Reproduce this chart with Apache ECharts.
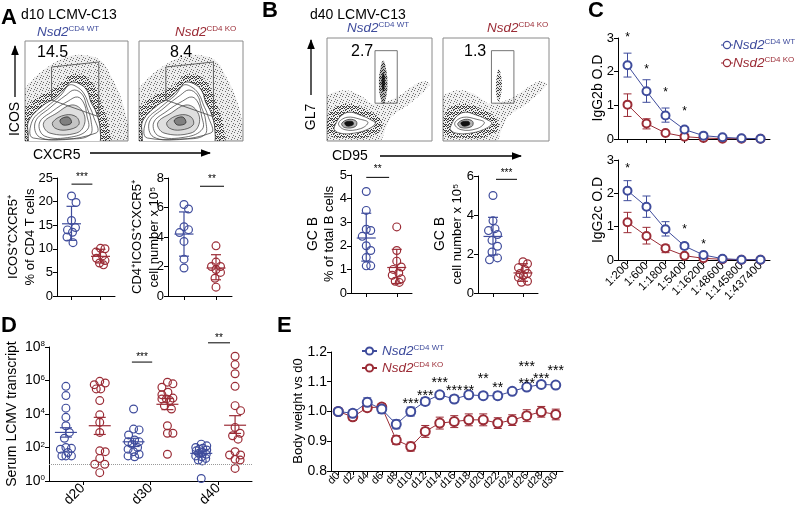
<!DOCTYPE html>
<html><head><meta charset="utf-8">
<script src="https://cdn.jsdelivr.net/npm/echarts@6/dist/echarts.min.js"></script>
<style>html,body{margin:0;padding:0;background:#fff}#c{width:795px;height:512px}</style>
</head><body><div id="c"></div><script>
// ---------------- DATA ----------------
// Panel A (d10): Tfh frequency and number
const aFreqWT = [21.2, 19.8, 16.0, 14.5, 14.0, 13.5, 12.5, 11.3];
const aFreqKO = [10.1, 10.0, 9.3, 8.5, 8.0, 7.5, 7.0, 6.6];
const aFreqStats = [[15.3, 11.8, 19.0], [8.4, 7.0, 9.9]];      // mean, low, high
const aNumWT = [6.2, 5.9, 4.7, 4.5, 4.3, 3.7, 2.5, 1.9];
const aNumKO = [3.4, 2.3, 2.0, 2.0, 1.8, 1.6, 1.2, 0.6];
const aNumStats = [[4.2, 2.7, 5.7], [1.9, 1.1, 2.8]];
// Panel B (d40): GC B frequency and number
const bFreqWT = [4.3, 3.5, 2.7, 2.65, 2.4, 2.0, 1.8, 1.5, 1.15, 1.15];
const bFreqKO = [2.8, 1.8, 1.35, 1.1, 1.0, 0.85, 0.75, 0.6, 0.5, 0.45];
const bFreqStats = [[2.33, 1.35, 3.38], [1.08, 0.4, 1.85]];
const bNumWT = [5.0, 3.7, 3.3, 3.2, 3.0, 2.7, 2.4, 2.1, 1.8, 1.7];
const bNumKO = [1.6, 1.5, 1.3, 1.2, 1.0, 1.0, 0.9, 0.8, 0.6, 0.55];
const bNumStats = [[2.9, 1.95, 3.88], [1.03, 0.6, 1.5]];
const gateA = ['14.5', '8.4'];
const gateB = ['2.7', '1.3'];
// Flow-plot outlines (normalised 0-100 plot units)
const aCloud = [[0,0],[0,50],[8,62],[22,74],[40,84],[58,86],[74,80],[84,64],[93,44],[99,20],[100,0]];
const aCloudDense = [[0,0],[0,32],[10,42],[24,50],[36,58],[44,66],[56,66],[66,58],[72,44],[78,28],[82,10],[82,0]];
const aRing1 = [[4,21],[18,36],[29,43],[40,54],[45,59],[55,56],[61,49],[64,39],[69,29],[73,11],[70,-3],[6,-3],[3,8]];
const aRing2 = [[7,20],[21,34],[35,46],[43,56],[52,53],[58,46],[62,36],[66,26],[69,8],[8,3]];
const aRing3 = [[10,19],[24,33],[40,46],[48,51],[56,46],[60,34],[64,21],[63,6],[40,2],[14,4]];
const aRing3b = [[14,18],[27,30],[42,40],[51,44],[57,38],[60,26],[61,12],[45,4],[19,5]];
const aRing4 = [[18,18],[31,28],[45,36],[55,31],[58,18],[50,8],[24,8]];
const aRing5 = [[27,19],[39,26],[50,24],[52,16],[40,11],[29,13]];
const aRing6 = [[34,21],[42,24],[45,18],[37,16]];
const aGate = [[25.8,74],[71.6,79],[71.6,24.3],[25.8,41],[25.8,74]];
const bCloud = [[0,0],[0,42],[8,48],[20,49],[32,44],[45,36],[65,42],[90,58],[98,55],[80,37],[62,24],[55,10],[50,0]];
const bCloudDense = [[2,6],[2,26],[10,34],[22,36],[36,31],[50,22],[52,12],[40,4],[20,3]];
const bRing1 = [[8,16],[13,24],[21,28],[32,25],[41,21],[46,17],[38,11],[25,7.5],[13,7.5],[7,11]];
const bRing2 = [[11,17],[19,23],[32,21],[39,18],[32,12],[17,11]];
const bRing3 = [[14,17],[21,21],[28,19],[27,14],[17,13]];
const bRing4 = [[17,18],[24,19],[25,16],[19,14.5]];
const bGcWT = [[53.6,78],[56.5,68],[57.5,56],[56.5,44],[53.6,36],[50.5,44],[49.5,56],[50.5,68]];
const bGcWTcore = [[53.6,66],[55.2,58],[53.6,48],[52,58]];
const bGcKO = [[52.7,70],[55,62],[55.5,52],[54,42],[52.7,38],[50.5,44],[50,54],[51,64]];
const bGate = [[45.7,87.7],[66.9,87.7],[66.9,36.7],[45.7,36.7],[45.7,87.7]];
// Panel C: ELISA dilutions
const dilutions = ['1:200','1:600','1:1800','1:5400','1:16200','1:48600','1:145800','1:437400'];
const g2bWT   = [2.19, 1.42, 0.70, 0.28, 0.10, 0.05, 0.02, 0.01];
const g2bWTLo = [1.84, 1.09, 0.50, 0.21, 0.08, 0.04, 0.01, 0.01];
const g2bWTHi = [2.55, 1.76, 0.92, 0.35, 0.12, 0.06, 0.02, 0.01];
const g2bKO   = [1.02, 0.46, 0.18, 0.07, 0.03, 0.01, 0.01, 0.01];
const g2bKOLo = [0.67, 0.30, 0.15, 0.05, 0.02, 0.01, 0.01, 0.01];
const g2bKOHi = [1.34, 0.60, 0.21, 0.09, 0.04, 0.02, 0.01, 0.01];
const g2bStarIdx = [0, 1, 2, 3];
const g2bStarY = [3.1, 2.16, 1.49, 0.92];
const g2cWT   = [2.08, 1.60, 0.92, 0.42, 0.15, 0.04, 0.01, 0.01];
const g2cWTLo = [1.78, 1.28, 0.72, 0.34, 0.12, 0.03, 0.01, 0.01];
const g2cWTHi = [2.38, 1.92, 1.15, 0.50, 0.18, 0.05, 0.01, 0.01];
const g2cKO   = [1.13, 0.72, 0.35, 0.13, 0.05, 0.02, 0.01, 0.01];
const g2cKOLo = [0.82, 0.48, 0.22, 0.10, 0.04, 0.01, 0.01, 0.01];
const g2cKOHi = [1.43, 0.98, 0.45, 0.16, 0.06, 0.03, 0.01, 0.01];
const g2cStarIdx = [0, 3, 4];
const g2cStarY = [2.85, 1.02, 0.57];
// Panel D: serum LCMV transcript (log10 copies)
const dGroups = ['WT d20','KO d20','WT d30','KO d30','WT d40','KO d40'];
const dDays = ['d20','d30','d40'];
const dWT20 = [5.65, 5.1, 4.35, 3.8, 3.3, 2.9, 2.55, 2.0, 1.95, 1.9, 1.7, 1.5, 1.5, 1.5];
const dKO20 = [5.95, 5.85, 5.75, 5.5, 5.5, 4.8, 3.95, 3.5, 2.9, 1.8, 1.75, 1.35, 1.0, 1.0, 0.5];
const dWT30 = [4.3, 3.1, 3.05, 2.75, 2.45, 2.35, 2.35, 2.2, 2.0, 1.9, 1.75, 1.6, 1.5, 1.45];
const dKO30 = [5.9, 5.8, 5.6, 5.3, 5.15, 4.95, 4.9, 4.9, 4.8, 4.5, 4.3, 3.3, 2.85, 2.85, 1.6];
const dWT40 = [2.2, 2.1, 2.0, 1.95, 1.9, 1.85, 1.8, 1.7, 1.65, 1.6, 1.5, 1.45, 1.35, 1.25, 1.2, 0.15];
const dKO40 = [7.45, 6.95, 6.4, 5.65, 4.5, 4.2, 3.2, 2.85, 2.7, 2.5, 1.75, 1.55, 1.55, 1.3, 1.25, 0.75];
const dStats = [[2.9,2.62,3.18],[3.3,2.78,3.8],[2.34,2.06,2.55],[4.58,4.26,4.92],[1.65,1.55,1.78],[3.33,2.84,3.9]];
const dLimit = 1;
// Panel E: body weight
const days = ['d0','d2','d4','d6','d8','d10','d12','d14','d16','d18','d20','d22','d24','d26','d28','d30'];
const weightWT    = [1.0, 0.994, 1.031, 1.008, 0.957, 1.0, 1.034, 1.056, 1.042, 1.056, 1.053, 1.053, 1.068, 1.082, 1.091, 1.089];
const weightWTErr = [0, 0.012, 0.015, 0.014, 0.015, 0.015, 0.012, 0.01, 0.012, 0.01, 0.01, 0.012, 0.008, 0.008, 0.006, 0.006];
const weightKO    = [1.0, 0.982, 1.013, 1.015, 0.904, 0.882, 0.933, 0.961, 0.966, 0.972, 0.972, 0.961, 0.971, 0.986, 0.999, 0.99];
const weightKOErr = [0, 0.012, 0.012, 0.012, 0.015, 0.015, 0.02, 0.02, 0.02, 0.02, 0.02, 0.018, 0.018, 0.02, 0.018, 0.018];
const eStarIdx  = [5, 6, 7, 8, 9, 10, 11, 13, 13, 14, 15];
const eStarY    = [1.039, 1.066, 1.109, 1.081, 1.081, 1.123, 1.092, 1.163, 1.106, 1.123, 1.15];
const eStarText = ['***','***','***','***','**','**','**','***','***','***','***'];

// ---------------- BUILD ----------------
const FONT = '"Liberation Sans", Arial, Helvetica, sans-serif';
const BLUE = '#3f4c9c', RED = '#9b2c36';
const NS = 13.5, SS = 8;   // Nsd2 label font / superscript font
const grids = [], xAxes = [], yAxes = [], series = [], G = [];
const axLine = {show:true, lineStyle:{color:'#000', width:1}};
const axTick = {show:true, length:4, lineStyle:{color:'#000', width:1}};

// speckle textures for flow-cytometry dot clouds (fixed pixel layout)
function speckle(cells, alpha) {
  const cv = document.createElement('canvas'); cv.width = 6; cv.height = 6;
  const cx = cv.getContext('2d'); cx.fillStyle = 'rgba(0,0,0,' + alpha + ')';
  cells.forEach(c => cx.fillRect(c[0], c[1], 1, 1));
  return {type:'pattern', image:cv, repeat:'repeat'};
}
const sparseDots = speckle([[0,0],[3,1],[5,3],[1,4],[4,5]], 0.55);
const denseDots = speckle([[0,0],[2,0],[4,1],[1,2],[3,2],[5,3],[0,4],[2,4],[4,4],[1,5],[3,5],[5,0]], 0.75);

// deterministic beeswarm: pixel x-offsets so that circles do not overlap
function swarm(values, pxPerUnit, minDist, maxOff) {
  const order = values.map((v, i) => i).sort((a, b) => values[b] - values[a]);
  const placed = [], off = values.map(() => 0);
  order.forEach(i => {
    const y = values[i] * pxPerUnit;
    let best = 0, bestScore = -1;
    for (let s = 0; s <= maxOff * 2; s++) {
      const dx = (s % 2 ? 1 : -1) * Math.ceil(s / 2) * 0.5;
      let md = Infinity;
      placed.forEach(p => { md = Math.min(md, Math.hypot(p[0] - dx, p[1] - y)); });
      if (md >= minDist) { best = dx; bestScore = Infinity; break; }
      if (md > bestScore) { bestScore = md; best = dx; }
    }
    off[i] = best; placed.push([best, y]);
  });
  return off;
}

function addGrid(rect, x, y) {
  grids.push(Object.assign({left:rect[0], top:rect[1], width:rect[2], height:rect[3], containLabel:false, outerBoundsMode:'none'}, rect[4] || {}));
  const i = grids.length - 1;
  xAxes.push(Object.assign({gridIndex:i}, x));
  yAxes.push(Object.assign({gridIndex:i}, y));
  return i;
}
function fc(api, f, y) {
  const i = Math.floor(f), p0 = api.coord([i, y]), p1 = api.coord([i + 1, y]);
  return [p0[0] + (p1[0] - p0[0]) * (f - i), p0[1]];
}
function poly(g, pts, fill, stroke, lw, smooth, z) {
  return {type:'custom', xAxisIndex:g, yAxisIndex:g, clip:true, silent:true, z:z || 1, data:pts,
    renderItem(params, api) {
      if (params.dataIndex !== 0) return {type:'group', children:[]};
      return {type:'polygon', shape:{points:pts.map(p => api.coord(p)), smooth:smooth || 0},
        style:{fill:fill || 'none', stroke:stroke || 'none', lineWidth:lw || 0.8}};
    }};
}
function polyline(g, pts, stroke, lw) {
  return {type:'custom', xAxisIndex:g, yAxisIndex:g, clip:true, silent:true, z:3, data:pts,
    renderItem(params, api) {
      if (params.dataIndex !== 0) return {type:'group', children:[]};
      return {type:'polyline', shape:{points:pts.map(p => api.coord(p))}, style:{fill:'none', stroke, lineWidth:lw}};
    }};
}
function flowPlot(rect, kind, isWT) {
  const g = addGrid([rect[0], rect[1], rect[2], rect[3], {show:true, borderColor:'#8a8a8a', borderWidth:1}],
    {type:'value', min:0, max:100, show:false}, {type:'value', min:0, max:100, show:false});
  if (kind === 'A') {
    series.push(poly(g, aCloud, 'rgba(0,0,0,0.07)', null, 0, 0.35));
    series.push(poly(g, aCloud, sparseDots, null, 0, 0.35));
    series.push(poly(g, aCloudDense, denseDots, null, 0, 0.35));
    series.push(poly(g, aRing1, '#fff', '#222', 0.8, 0.4, 2));
    [aRing2, aRing3, aRing3b, aRing4, aRing5].forEach((r, k) =>
      series.push(poly(g, r, k >= 3 ? 'rgba(80,80,80,0.18)' : 'none', '#333', 0.7, 0.4, 2)));
    series.push(poly(g, aRing6, 'rgba(60,60,60,0.5)', '#222', 0.7, 0.4, 2));
    series.push(polyline(g, aGate, '#555', 0.9));
  } else {
    series.push(poly(g, bCloud, 'rgba(0,0,0,0.06)', null, 0, 0.35));
    series.push(poly(g, bCloud, sparseDots, null, 0, 0.35));
    series.push(poly(g, bCloudDense, denseDots, null, 0, 0.4));
    series.push(poly(g, bRing1, '#fff', '#333', 0.7, 0.4, 2));
    series.push(poly(g, bRing2, 'none', '#333', 0.7, 0.4, 2));
    series.push(poly(g, bRing3, 'rgba(40,40,40,0.35)', '#222', 0.7, 0.4, 2));
    series.push(poly(g, bRing4, '#111', '#111', 0.7, 0.4, 2));
    if (isWT) {
      series.push(poly(g, bGcWT, denseDots, null, 0, 0.5));
      series.push(poly(g, bGcWT, 'rgba(0,0,0,0.3)', null, 0, 0.5));
      series.push(poly(g, bGcWTcore, 'rgba(0,0,0,0.8)', null, 0, 0.5, 2));
    } else {
      series.push(poly(g, bGcKO, denseDots, null, 0, 0.5));
      series.push(poly(g, bGcKO, 'rgba(0,0,0,0.12)', null, 0, 0.5));
    }
    series.push(polyline(g, bGate, '#666', 0.9));
  }
  return g;
}
// hollow-circle dots drawn through the axes, shifted sideways by the swarm offsets
function dots(g, cat, values, color, pxPerUnit, minDist, maxOff) {
  const off = swarm(values, pxPerUnit, minDist, maxOff);
  return {type:'custom', xAxisIndex:g, yAxisIndex:g, z:3, silent:true, clip:false,
    data:values.map((v, i) => [cat, v, off[i]]),
    renderItem(params, api) {
      const p = api.coord([api.value(0), api.value(1)]);
      return {type:'circle', shape:{cx:p[0] + api.value(2), cy:p[1], r:3.9}, style:{fill:'none', stroke:color, lineWidth:1.2}};
    }};
}
function barSeries(g, xi, rows, colors, mw, cw, lw, z) {
  return {type:'custom', xAxisIndex:xi, yAxisIndex:g, z:z || 4, silent:true, clip:false, data:rows,
    renderItem(params, api) {
      const i = api.value(0);
      const m = api.coord([i, api.value(1)]), lo = api.coord([i, api.value(2)]), hi = api.coord([i, api.value(3)]);
      const c = colors[params.dataIndex % colors.length];
      const S = () => ({stroke:c, lineWidth:lw || 1.2});
      const ch = [
        {type:'line', shape:{x1:lo[0], y1:lo[1], x2:hi[0], y2:hi[1]}, style:S()},
        {type:'line', shape:{x1:lo[0]-cw/2, y1:lo[1], x2:lo[0]+cw/2, y2:lo[1]}, style:S()},
        {type:'line', shape:{x1:hi[0]-cw/2, y1:hi[1], x2:hi[0]+cw/2, y2:hi[1]}, style:S()}];
      if (mw) ch.push({type:'line', shape:{x1:m[0]-mw/2, y1:m[1], x2:m[0]+mw/2, y2:m[1]}, style:S()});
      return {type:'group', children:ch};
    }};
}
function sigSeries(g, xi, x1, x2, yLine, yStar, text, fs) {
  return {type:'custom', xAxisIndex:xi, yAxisIndex:g, clip:false, silent:true, z:5, data:[[0, yLine]],
    renderItem(params, api) {
      const a = fc(api, x1, yLine), b = fc(api, x2, yLine), s = fc(api, (x1 + x2) / 2, yStar);
      return {type:'group', children:[
        {type:'line', shape:{x1:a[0], y1:a[1], x2:b[0], y2:b[1]}, style:{stroke:'#000', lineWidth:1}},
        {type:'text', x:s[0], y:s[1] + fs * 0.25, style:{text, fontSize:fs, fontFamily:FONT, fill:'#000', align:'center', verticalAlign:'middle'}}]};
    }};
}
function starSeries(g, idx, ys, texts, fs) {
  return {type:'custom', xAxisIndex:g, yAxisIndex:g, clip:false, silent:true, z:5,
    data:idx.map((d, k) => [d, ys[k]]),
    renderItem(params, api) {
      const p = api.coord([api.value(0), api.value(1)]);
      const t = Array.isArray(texts) ? texts[params.dataIndex] : texts;
      return {type:'text', x:p[0], y:p[1] + fs * 0.28, style:{text:t, fontSize:fs, fontFamily:FONT, fill:'#000', align:'center', verticalAlign:'middle'}};
    }};
}
function dotPlot(rect, yMax, yInt, wt, ko, stats, sig) {
  const g = addGrid(rect,
    {type:'category', data:['WT','KO'], boundaryGap:true, axisLine:axLine, axisTick:Object.assign({alignWithLabel:true}, axTick),
     axisLabel:{show:false}},
    {type:'value', min:0, max:yMax, interval:yInt, axisLine:axLine, axisTick:axTick, splitLine:{show:false},
     axisLabel:{fontSize:13, color:'#000', fontFamily:FONT, margin:4}});
  const ppu = rect[3] / yMax;
  series.push(dots(g, 0, wt, BLUE, ppu, 8, 9));
  series.push(dots(g, 1, ko, RED, ppu, 8, 9));
  series.push(barSeries(g, g, stats.map((s, i) => [i, s[0], s[1], s[2]]), [BLUE, RED], 19, 10));
  series.push(sigSeries(g, g, sig[0], sig[1], sig[2], sig[3], sig[4], 10));
  return g;
}

// Panel A
flowPlot([25, 41, 103, 100], 'A', true);
flowPlot([139, 41, 104, 100], 'A', false);
dotPlot([57, 178, 58, 118], 25, 5, aFreqWT, aFreqKO, aFreqStats, [0, 0.72, 23.7, 25.6, '***']);
dotPlot([168, 178, 64, 118], 8, 2, aNumWT, aNumKO, aNumStats, [0.5, 1.25, 7.44, 8.1, '**']);
// Panel B
flowPlot([327, 38, 105, 103], 'B', true);
flowPlot([443, 38, 106, 103], 'B', false);
dotPlot([351, 175, 61, 118], 5, 1, bFreqWT, bFreqKO, bFreqStats, [0, 0.75, 4.9, 5.35, '**']);
dotPlot([478, 176, 60, 117], 6, 2, bNumWT, bNumKO, bNumStats, [0.1, 0.8, 5.83, 6.25, '***']);

// Panel C
function elisa(rect, showLabels, wt, wtLo, wtHi, ko, koLo, koHi, sIdx, sY, names) {
  const g = addGrid(rect,
    {type:'category', data:dilutions, boundaryGap:true, axisLine:axLine, axisTick:Object.assign({alignWithLabel:true}, axTick),
     axisLabel:{show:showLabels, rotate:45, interval:0, fontSize:11.5, color:'#000', fontFamily:FONT, margin:4}},
    {type:'value', min:0, max:3, interval:1, axisLine:axLine, axisTick:axTick, splitLine:{show:false},
     axisLabel:{fontSize:13, color:'#000', fontFamily:FONT, margin:4}});
  series.push(barSeries(g, g, wt.map((v, i) => [i, v, wtLo[i], wtHi[i]]), [BLUE], 0, 8, 1, 2));
  series.push(barSeries(g, g, ko.map((v, i) => [i, v, koLo[i], koHi[i]]), [RED], 0, 8, 1, 2));
  series.push({type:'line', name:names[0], xAxisIndex:g, yAxisIndex:g, data:wt, symbol:'emptyCircle', symbolSize:8, z:4,
    itemStyle:{color:BLUE}, lineStyle:{color:BLUE, width:1}});
  series.push({type:'line', name:names[1], xAxisIndex:g, yAxisIndex:g, data:ko, symbol:'emptyCircle', symbolSize:8, z:3,
    itemStyle:{color:RED}, lineStyle:{color:RED, width:1}});
  series.push(starSeries(g, sIdx, sY, '*', 12));
}
elisa([618, 38, 152, 101], false, g2bWT, g2bWTLo, g2bWTHi, g2bKO, g2bKOLo, g2bKOHi, g2bStarIdx, g2bStarY, ['cWT', 'cKO']);
elisa([618, 160, 152, 100], true, g2cWT, g2cWTLo, g2cWTHi, g2cKO, g2cKOLo, g2cKOHi, g2cStarIdx, g2cStarY, ['cWT2', 'cKO2']);

// Panel D
const gD = addGrid([49, 347, 203, 134],
  {type:'category', data:dGroups, boundaryGap:true, axisLine:axLine, axisTick:{show:false}, axisLabel:{show:false}},
  {type:'value', min:0, max:8, interval:2, axisLine:axLine, axisTick:axTick, splitLine:{show:false},
   axisLabel:{color:'#000', margin:4, formatter:v => '{b|10}{s|' + v + '}',
     rich:{b:{fontSize:14, fontFamily:FONT, color:'#000'}, s:{fontSize:8, fontFamily:FONT, color:'#000', verticalAlign:'top'}}}});
const dSets = [dWT20, dKO20, dWT30, dKO30, dWT40, dKO40];
dSets.forEach((arr, k) => series.push(dots(gD, k, arr, k % 2 ? RED : BLUE, 134 / 8, 7.5, 11)));
series.push({type:'line', xAxisIndex:gD, yAxisIndex:gD, data:[], silent:true,
  markLine:{silent:true, symbol:'none', label:{show:false}, data:[{yAxis:dLimit}], lineStyle:{type:'dotted', color:'#999', width:1}}});
series.push(barSeries(gD, gD, dStats.map((s, i) => [i, s[0], s[1], s[2]]), [BLUE, RED], 22, 12));
series.push(sigSeries(gD, gD, 1.95, 2.55, 7.1, 7.55, '***', 10));
series.push(sigSeries(gD, gD, 4.2, 4.85, 8.25, 8.7, '**', 10));

// Panel E
const gE = addGrid([331, 352, 232, 119],
  {type:'category', data:days, boundaryGap:true, axisLine:axLine, axisTick:Object.assign({alignWithLabel:true}, axTick),
   axisLabel:{rotate:45, interval:0, fontSize:11, color:'#000', fontFamily:FONT, margin:3}},
  {type:'value', min:0.8, max:1.2, interval:0.1, axisLine:axLine, axisTick:axTick, splitLine:{show:false},
   axisLabel:{fontSize:14, color:'#000', fontFamily:FONT, margin:4, formatter:v => v.toFixed(1)}});
series.push(barSeries(gE, gE, weightWT.map((v, i) => [i, v, v - weightWTErr[i], v + weightWTErr[i]]), [BLUE], 0, 8, 1, 2));
series.push(barSeries(gE, gE, weightKO.map((v, i) => [i, v, v - weightKOErr[i], v + weightKOErr[i]]), [RED], 0, 8, 1, 2));
series.push({type:'line', name:'eWT', xAxisIndex:gE, yAxisIndex:gE, data:weightWT, symbol:'emptyCircle', symbolSize:9, z:4,
  itemStyle:{color:BLUE}, lineStyle:{color:BLUE, width:1}});
series.push({type:'line', name:'eKO', xAxisIndex:gE, yAxisIndex:gE, data:weightKO, symbol:'emptyCircle', symbolSize:9, z:3,
  itemStyle:{color:RED}, lineStyle:{color:RED, width:1}});
series.push(starSeries(gE, eStarIdx, eStarY, eStarText, 14));

// extra label axis for panel D (pushed last so axis indices match grid indices)
xAxes.push({gridIndex:gD, type:'category', data:dDays, boundaryGap:true, position:'bottom', axisLine:{show:false},
  axisTick:Object.assign({alignWithLabel:true}, axTick), axisLabel:{rotate:45, fontSize:14, color:'#000', fontFamily:FONT, margin:5}});

// ---------------- TEXT / DECORATION ----------------
function T(x, y, text, size, opts) {
  G.push(Object.assign({type:'text', x, y, silent:true, z:10,
    style:Object.assign({text, fontSize:size, fontFamily:FONT, fill:'#000', align:'left', verticalAlign:'middle'}, (opts && opts.style) || {})},
    (opts && opts.el) || {}));
}
function VT(x, y, text, size) { T(x, y, text, size, {el:{rotation:Math.PI / 2}, style:{align:'center'}}); }
function title(x, y, sup, color) {
  G.push({type:'text', x, y, silent:true, z:10, style:{text:'{n|Nsd2}{s|' + sup + '}', verticalAlign:'middle',
    rich:{n:{fontSize:NS, fontStyle:'italic', fontFamily:FONT, fill:color, color},
          s:{fontSize:SS, fontFamily:FONT, fill:color, color, verticalAlign:'top'}}}});
}
function legendItem(x, y, sup, color) {
  G.push({type:'line', silent:true, shape:{x1:x, y1:y, x2:x + 12, y2:y}, style:{stroke:color, lineWidth:1}});
  G.push({type:'circle', silent:true, z:11, shape:{cx:x + 6, cy:y, r:3.6}, style:{fill:'#fff', stroke:color, lineWidth:1.2}});
  title(x + 12, y, sup, color);
}
function arrow(x1, y1, x2, y2) {
  G.push({type:'line', silent:true, shape:{x1, y1, x2, y2}, style:{stroke:'#000', lineWidth:1.3}});
  const a = Math.atan2(y2 - y1, x2 - x1), L = 9, W = 3.8;
  G.push({type:'polygon', silent:true, shape:{points:[[x2 + 1 * Math.cos(a), y2 + 1 * Math.sin(a)],
    [x2 - L * Math.cos(a) + W * Math.sin(a), y2 - L * Math.sin(a) - W * Math.cos(a)],
    [x2 - L * Math.cos(a) - W * Math.sin(a), y2 - L * Math.sin(a) + W * Math.cos(a)]]}, style:{fill:'#000'}});
}
const B = {style:{fontWeight:'bold'}};
T(1, 18, 'A', 22, B);
T(21, 15, 'd10 LCMV-C13', 14);
title(37, 32, 'CD4 WT', BLUE);
title(175, 32, 'CD4 KO', RED);
T(37, 53, gateA[0], 16);
T(170, 53, gateA[1], 16);
arrow(15, 97, 15, 46);
VT(15, 119, 'ICOS', 14);
T(33, 155, 'CXCR5', 14);
arrow(90, 153, 210, 153);
VT(13, 237, 'ICOS\u207ACXCR5\u207A', 13);
VT(30, 237, '% of CD4 T cells', 13);
VT(137, 237, 'CD4\u207AICOS\u207ACXCR5\u207A', 13);
VT(154, 237, 'cell number x 10\u2075', 13);

T(262, 11, 'B', 22, B);
T(310, 15, 'd40 LCMV-C13', 14);
title(347, 28, 'CD4 WT', BLUE);
title(487, 28, 'CD4 KO', RED);
T(351, 52, gateB[0], 16);
T(464, 52, gateB[1], 16);
arrow(311, 95, 311, 40);
VT(311, 117, 'GL7', 14);
T(332, 156, 'CD95', 14);
arrow(380, 156, 521, 156);
VT(313, 234, 'GC B', 14);
VT(329, 234, '% of total B cells', 13);
VT(440, 234, 'GC B', 14);
VT(457, 234, 'cell number x 10\u2075', 13);

T(588, 11, 'C', 22, B);
VT(598, 88, 'IgG2b O.D', 14);
VT(598, 210, 'IgG2c O.D', 14);
legendItem(721, 45, 'CD4 WT', BLUE);
legendItem(721, 63, 'CD4 KO', RED);

T(1, 326, 'D', 22, B);
VT(12, 414, 'Serum LCMV transcript', 14);
T(277, 326, 'E', 22, B);
VT(298, 411, 'Body weight vs d0', 13);

const legRich = {
  nb:{fontSize:NS, fontStyle:'italic', color:BLUE, fontFamily:FONT}, sb:{fontSize:SS, color:BLUE, fontFamily:FONT, verticalAlign:'top'},
  nr:{fontSize:NS, fontStyle:'italic', color:RED, fontFamily:FONT}, sr:{fontSize:SS, color:RED, fontFamily:FONT, verticalAlign:'top'}};
const legFmt = n => /WT/.test(n) ? '{nb|Nsd2}{sb|CD4 WT}' : '{nr|Nsd2}{sr|CD4 KO}';

const chart = echarts.init(document.getElementById('c'), null, {renderer:'canvas', width:795, height:512});
chart.setOption({
  animation:false, backgroundColor:'#fff', textStyle:{fontFamily:FONT},
  grid:grids, xAxis:xAxes, yAxis:yAxes, series,
  legend:[
    {data:['eWT', 'eKO'], left:356, top:339, orient:'vertical', itemGap:3, itemWidth:15, itemHeight:9,
     formatter:legFmt, textStyle:{rich:legRich}, selectedMode:false}],
  graphic:{elements:G}
});
</script></body></html>
